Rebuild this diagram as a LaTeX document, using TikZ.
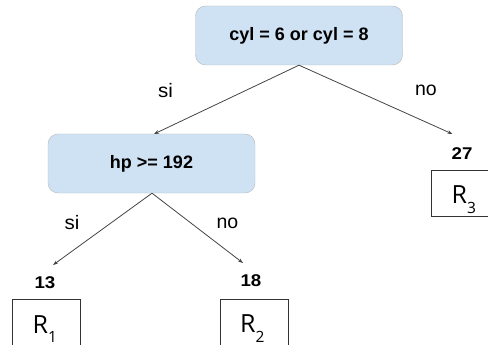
\documentclass[tikz,border=0pt]{standalone}
\usepackage{fontspec}
\usepackage{graphicx}
\setmainfont{Liberation Sans}
\newfontfamily\rfont{Open Sans}
\usetikzlibrary{arrows.meta,calc}

\definecolor{boxfill}{HTML}{CFE2F3}
\definecolor{boxline}{HTML}{B7B7B7}
\definecolor{edgecol}{HTML}{444444}

% slightly widened sans text, as in the drawing
\newcommand{\widetxt}[2][1.0]{\scalebox{#1}[1]{#2}}
\newcommand{\regionlabel}[1]{{\rfont\fontsize{25}{25}\selectfont R}\raisebox{-9.5pt}{\rfont\fontsize{15.5}{15.5}\selectfont #1}}

\tikzset{
  splitbox/.style={draw=boxline, fill=boxfill, rounded corners=10pt,
    minimum width=207pt, minimum height=59pt, inner sep=0pt,
    font=\fontsize{18}{18}\selectfont\bfseries},
  branch/.style={draw=edgecol, line width=0.8pt,
    -{Stealth[length=5pt,width=3.6pt]}},
  edgelabel/.style={inner sep=0pt, font=\fontsize{19.5}{19.5}\selectfont},
  valuelabel/.style={inner sep=0pt, font=\fontsize{17}{17}\selectfont\bfseries},
  leafbox/.style={draw=black!80, line width=0.7pt, inner sep=0pt},
  leaflabel/.style={inner sep=0pt, anchor=base west}
}

\begin{document}
\begin{tikzpicture}[x=1pt, y=-1pt]
  \useasboundingbox (0,0) rectangle (488,345);
  \clip (0,0) rectangle (488,345);

  % split nodes
  \node[splitbox] (root) at (299,35.5) {cyl = 6 or cyl = 8};
  \node[splitbox] (hp) at (151.5,163.5) {hp >= 192};

  % leaf values
  \node[valuelabel] (v27) at (462,153.5) {\widetxt[1.1]{27}};
  \node[valuelabel] (v13) at (45,282.5) {\widetxt[1.1]{13}};
  \node[valuelabel] (v18) at (251,281) {\widetxt[1.1]{18}};

  % arrow ends just above the leaf values
  \coordinate (t27) at (452.5,134);
  \coordinate (t13) at (53,265);
  \coordinate (t18) at (243,263);
  \coordinate (thp) at (154,134);

  % branches
  \draw[branch] (root.south) -- (thp);
  \draw[branch] (root.south) -- (t27);
  \draw[branch] ($(hp.south)+(0.5,0)$) -- (t13);
  \draw[branch] ($(hp.south)+(0.5,0)$) -- (t18);

  % branch labels
  \node[edgelabel] (si1) at (165.5,90.5) {\widetxt[1.05]{si}};
  \node[edgelabel] (no1) at (426,90.5) {no};
  \node[edgelabel] (si2) at (72,223) {\widetxt[1.05]{si}};
  \node[edgelabel] (no2) at (227.5,223) {no};

  % leaf regions
  \node[leafbox, minimum width=68pt, minimum height=60pt] (b1) at (46.7,329.3) {};
  \node[leafbox, minimum width=67.6pt, minimum height=60pt] (b2) at (254.5,329.3) {};
  \node[leafbox, minimum width=70pt, minimum height=46.7pt] (b3) at (466,193.3) {};

  \node[leaflabel] (r1) at (32.5,333) {\regionlabel{1}};
  \node[leaflabel] (r2) at (240,332.5) {\regionlabel{2}};
  \node[leaflabel] (r3) at (451.5,204) {\regionlabel{3}};
\end{tikzpicture}
\end{document}
